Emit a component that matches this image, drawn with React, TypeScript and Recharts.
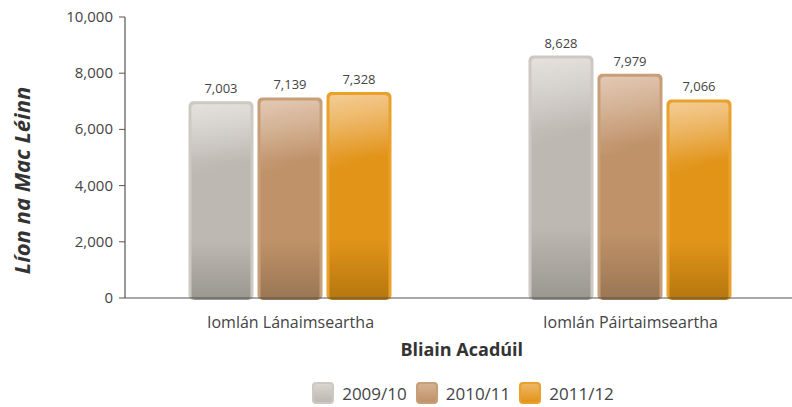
import { Bar, BarChart, LabelList, Legend, XAxis, YAxis } from "recharts";

const categories = ["Iomlán Lánaimseartha", "Iomlán Páirtaimseartha"];
const years = ["2009/10", "2010/11", "2011/12"];
const values2009 = [7003, 8628];
const values2010 = [7139, 7979];
const values2011 = [7328, 7066];
const yTicks = [0, 2000, 4000, 6000, 8000, 10000];

const palette = [
  { key: "grey", border: "#cdc8c1", top: "#d9d5cf", mid: "#bdb8b1", bottom: "#9a9791" },
  { key: "tan", border: "#c79e78", top: "#d6b192", mid: "#bf9269", bottom: "#9a7653" },
  { key: "orange", border: "#e9a12c", top: "#efb666", mid: "#e29419", bottom: "#b5770f" },
];

const data = categories.map((name, i) => ({
  name,
  y2009: values2009[i],
  y2010: values2010[i],
  y2011: values2011[i],
}));

const font = "'Open Sans', sans-serif";
const textColor = "#444";

function makeShape(idx: number) {
  const c = palette[idx];
  return (props: any) => {
    const { x, y, width, height } = props;
    if (!height || height <= 0) return <g />;
    const inset = 3;
    return (
      <g>
        <rect x={x} y={y} width={width} height={height + 2} rx={5} ry={5} fill={c.border} />
        <rect
          x={x + inset}
          y={y + inset}
          width={width - inset * 2}
          height={height - inset + 2}
          rx={4}
          ry={4}
          fill={`url(#fill-${c.key})`}
        />
        <rect
          x={x + inset}
          y={y + inset}
          width={width - inset * 2}
          height={Math.min(height * 0.35, 90)}
          rx={4}
          ry={4}
          fill="url(#gloss)"
        />
      </g>
    );
  };
}

function XTick(props: any) {
  const { x, y, payload } = props;
  return (
    <text x={x} y={y + 22} textAnchor="middle" fontFamily={font} fontSize={16} fill={textColor}>
      {payload.value}
    </text>
  );
}

function YTick(props: any) {
  const { x, y, payload } = props;
  return (
    <text x={x - 4} y={y + 5} textAnchor="end" fontFamily={font} fontSize={15} fill={textColor}>
      {Number(payload.value).toLocaleString("en-US")}
    </text>
  );
}

// y-axis title, rotated; sits left of the tick labels
function YTitle(props: any) {
  const vb = props.viewBox || {};
  const cx = 21;
  const cy = (vb.y ?? 17) + (vb.height ?? 281) / 2 + 23;
  return (
    <text
      x={cx}
      y={cy}
      transform={`rotate(-90, ${cx}, ${cy})`}
      textAnchor="middle"
      dominantBaseline="central"
      fontFamily={font}
      fontSize={22}
      fontWeight={700}
      fontStyle="italic"
      fill="#333"
    >
      Líon na Mac Léinn
    </text>
  );
}

function LegendContent() {
  return (
    <div style={{ display: "flex", justifyContent: "center", alignItems: "center", gap: 8, fontFamily: font, fontSize: 17, color: textColor }}>
      {years.map((yr, i) => {
        const c = palette[i];
        return (
          <div key={yr} style={{ display: "flex", alignItems: "center" }}>
            <svg width={24} height={24} style={{ marginRight: 7 }}>
              <rect x={1} y={1} width={22} height={22} rx={4} fill={c.border} />
              <rect x={3} y={3} width={18} height={18} rx={3} fill={`url(#lg-${c.key})`} />
              <defs>
                <linearGradient id={`lg-${c.key}`} x1="0" y1="0" x2="0" y2="1">
                  <stop offset="0%" stopColor={c.top} />
                  <stop offset="100%" stopColor={c.mid} />
                </linearGradient>
              </defs>
            </svg>
            <span>{yr}</span>
          </div>
        );
      })}
    </div>
  );
}

const fmt = (v: any) => Number(v).toLocaleString("en-US");
const labelStyle = { fontFamily: font, fontSize: 13, fill: textColor };

export default function App() {
  return (
    <div style={{ position: "absolute", left: 0, top: 0, width: 792, height: 407, overflow: "hidden", background: "#fff" }}>
      <BarChart
        width={810}
        height={407}
        data={data}
        margin={{ top: 17, right: 9.5, bottom: 0, left: 0 }}
        barCategoryGap="20%"
        barGap={4}
      >
        <defs>
          {palette.map((c) => (
            <linearGradient key={c.key} id={`fill-${c.key}`} x1="0" y1="0" x2="0" y2="1">
              <stop offset="0%" stopColor={c.top} />
              <stop offset="30%" stopColor={c.mid} />
              <stop offset="70%" stopColor={c.mid} />
              <stop offset="100%" stopColor={c.bottom} />
            </linearGradient>
          ))}
          <linearGradient id="gloss" x1="0" y1="0" x2="0.35" y2="1">
            <stop offset="0%" stopColor="#fff" stopOpacity={0.3} />
            <stop offset="60%" stopColor="#fff" stopOpacity={0.12} />
            <stop offset="100%" stopColor="#fff" stopOpacity={0} />
          </linearGradient>
        </defs>
        <XAxis
          dataKey="name"
          height={60}
          padding={{ left: -4.5, right: 0 }}
          axisLine={{ stroke: "#555", strokeWidth: 1.2 }}
          tickLine={false}
          tick={<XTick />}
          label={{
            value: "Bliain Acadúil",
            position: "insideBottom",
            offset: 2,
            dx: -1,
            style: { fontFamily: font, fontSize: 18, fontWeight: 700, fill: "#333" },
          }}
        />
        <YAxis
          width={125}
          domain={[0, 10000]}
          ticks={yTicks}
          interval={0}
          axisLine={{ stroke: "#555", strokeWidth: 1.2 }}
          tickLine={{ stroke: "#555" }}
          tickSize={6}
          tick={<YTick />}
          label={{ content: <YTitle /> }}
        />
        <Legend verticalAlign="bottom" height={49} content={<LegendContent />} wrapperStyle={{ top: 381, left: 125, width: 675 }} />
        <Bar dataKey="y2009" name={years[0]} shape={makeShape(0)} isAnimationActive={false}>
          <LabelList dataKey="y2009" position="top" offset={8} formatter={fmt} style={labelStyle} />
        </Bar>
        <Bar dataKey="y2010" name={years[1]} shape={makeShape(1)} isAnimationActive={false}>
          <LabelList dataKey="y2010" position="top" offset={8} formatter={fmt} style={labelStyle} />
        </Bar>
        <Bar dataKey="y2011" name={years[2]} shape={makeShape(2)} isAnimationActive={false}>
          <LabelList dataKey="y2011" position="top" offset={8} formatter={fmt} style={labelStyle} />
        </Bar>
      </BarChart>
    </div>
  );
}
